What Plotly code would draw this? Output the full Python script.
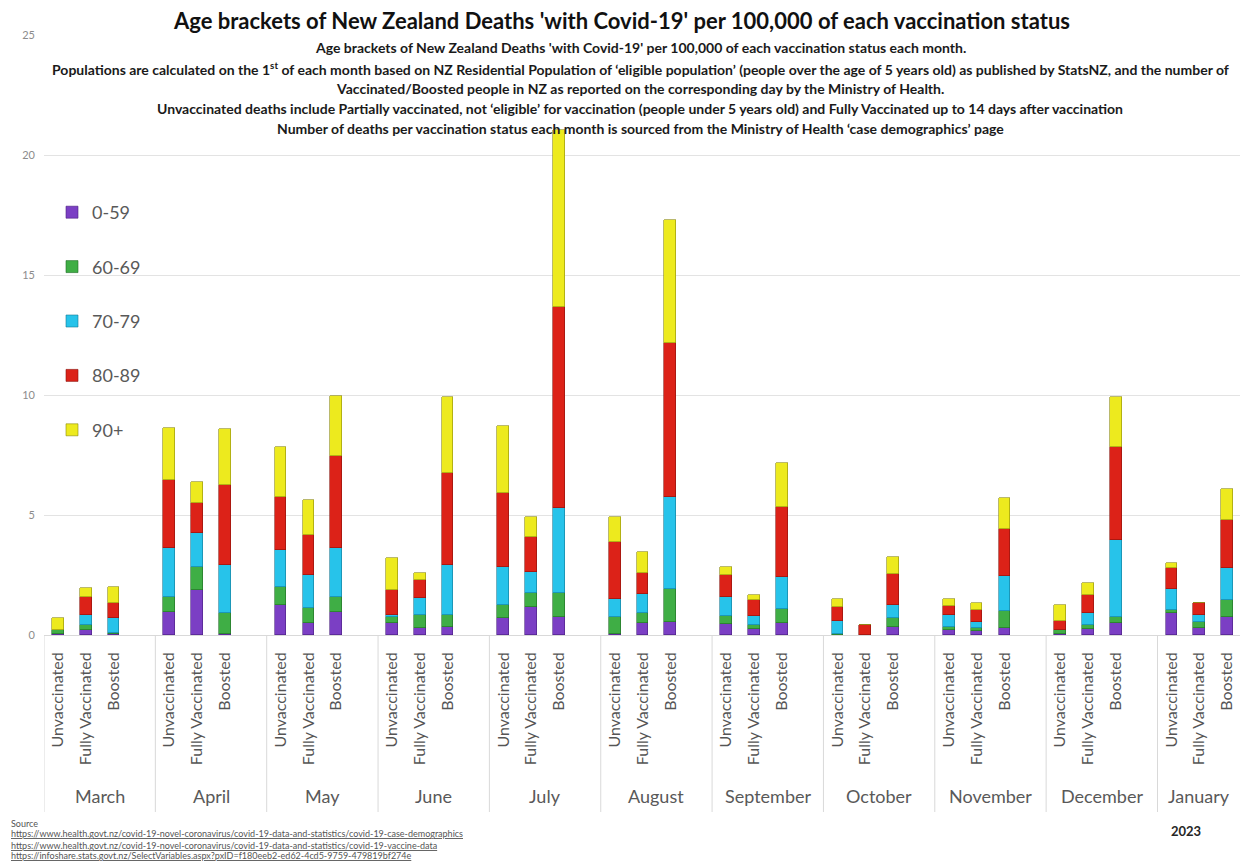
import plotly.graph_objects as go

months = ["March", "April", "May", "June", "July", "August", "September",
          "October", "November", "December", "January"]
statuses = ["Unvaccinated", "Fully Vaccinated", "Boosted"]

# values per 100,000, ordered month by month: Unvaccinated, Fully Vaccinated, Boosted
age_0_59 = [0.05, 0.21, 0.03,  0.97, 1.88, 0.03,  1.25, 0.49, 0.97,  0.49, 0.28, 0.35,
            0.70, 1.18, 0.75,  0.05, 0.49, 0.55,  0.45, 0.25, 0.50,  0.02, 0.00, 0.35,
            0.20, 0.15, 0.30,  0.05, 0.25, 0.50,  0.90, 0.28, 0.74]
age_60_69 = [0.15, 0.21, 0.05,  0.63, 0.97, 0.87,  0.76, 0.63, 0.63,  0.25, 0.55, 0.49,
             0.55, 0.56, 1.00,  0.72, 0.42, 1.35,  0.35, 0.15, 0.60,  0.03, 0.00, 0.35,
             0.15, 0.13, 0.70,  0.15, 0.17, 0.25,  0.15, 0.28, 0.72]
age_70_79 = [0.00, 0.42, 0.62,  2.02, 1.39, 2.01,  1.53, 1.39, 2.02,  0.10, 0.70, 2.08,
             1.60, 0.90, 3.55,  0.71, 0.78, 3.87,  0.80, 0.40, 1.30,  0.55, 0.00, 0.55,
             0.50, 0.28, 1.45,  0.02, 0.50, 3.20,  0.85, 0.27, 1.32]
age_80_89 = [0.00, 0.76, 0.65,  2.85, 1.25, 3.33,  2.22, 1.67, 3.82,  1.04, 0.76, 3.82,
             3.06, 1.46, 8.38,  2.39, 0.91, 6.41,  0.90, 0.65, 2.95,  0.55, 0.42, 1.30,
             0.35, 0.48, 1.95,  0.35, 0.73, 3.90,  0.90, 0.52, 2.00]
age_90_plus = [0.50, 0.35, 0.67,  2.15, 0.90, 2.36,  2.08, 1.46, 2.50,  1.32, 0.28, 3.19,
               2.78, 0.83, 7.38,  1.06, 0.87, 5.10,  0.35, 0.22, 1.80,  0.35, 0.00, 0.70,
               0.28, 0.28, 1.30,  0.70, 0.50, 2.05,  0.20, 0.00, 1.32]

series_names = ["0-59", "60-69", "70-79", "80-89", "90+"]
series_values = [age_0_59, age_60_69, age_70_79, age_80_89, age_90_plus]
series_colors = ["#7B3FC4", "#3FAE45", "#27C3EA", "#DC2218", "#EDEA1E"]
edge_colors = ["#4A1F80", "#1F6B25", "#147A96", "#8A120C", "#8C8A0C"]

subtitle_lines = [
    "Age brackets of New Zealand Deaths 'with Covid-19' per 100,000 of each vaccination status each month.",
    "Populations are calculated on the 1<sup>st</sup> of each month based on NZ Residential Population of ‘eligible population’ (people over the age of 5 years old) as published by StatsNZ, and the number of",
    "Vaccinated/Boosted people in NZ as reported on the corresponding day by the Ministry of Health.",
    "Unvaccinated deaths include Partially vaccinated, not ‘eligible’ for vaccination (people under 5 years old) and Fully Vaccinated up to 14 days after vaccination",
    "Number of deaths per vaccination status each month is sourced from the Ministry of Health ‘case demographics’ page",
]
source_lines = [
    "https://www.health.govt.nz/covid-19-novel-coronavirus/covid-19-data-and-statistics/covid-19-case-demographics",
    "https://www.health.govt.nz/covid-19-novel-coronavirus/covid-19-data-and-statistics/covid-19-vaccine-data",
    "https://infoshare.stats.govt.nz/SelectVariables.aspx?pxID=f180eeb2-ed62-4cd5-9759-479819bf274e",
]

# the page shows the figure 8px in from the top-left corner
OFF = 8
W, H = 1248 - OFF, 864 - OFF
ML, MR = 44 - OFF, 7
MT = 35 - OFF
MB = H - (635 - OFF)
PH = H - MT - MB
PW = W - ML - MR

def py(yref):
    """screen y (px) -> paper y"""
    return ((635 - OFF) - (yref - OFF)) / PH

def px(xref):
    """screen x (px) -> paper x"""
    return ((xref - OFF) - ML) / PW

# slot positions: three bars per month, one empty slot between months
slots_per_month = len(statuses) + 1
xpos = [m * slots_per_month + s for m in range(len(months)) for s in range(len(statuses))]
ticktext = [s for _ in months for s in statuses]

fig = go.Figure()
for name, vals, col, ecol in zip(series_names, series_values, series_colors, edge_colors):
    fig.add_trace(go.Bar(
        x=xpos, y=vals, name=name, width=0.42,
        marker=dict(color=col, line=dict(color=ecol, width=0.6)),
        legendgroup=name,
    ))

font_main = "Lato, Open Sans, sans-serif"
x_max = xpos[-1] + 0.5
dividers = [m * slots_per_month - 0.5 for m in range(len(months))] + [x_max]

shapes = []
for d in dividers:
    shapes.append(dict(type="line", xref="x", yref="paper", x0=d, x1=d,
                       y0=0, y1=py(812), line=dict(color="#D9D9D9", width=1)))

annotations = []
for i, mname in enumerate(months):
    cx = (dividers[i] + dividers[i + 1]) / 2
    annotations.append(dict(text=mname, xref="x", yref="paper", x=cx, y=py(796),
                            showarrow=False, yanchor="middle",
                            font=dict(family=font_main, size=18, color="#595959")))

sub_y = [48, 68, 88, 108, 128]
for line, yy in zip(subtitle_lines, sub_y):
    annotations.append(dict(text="<b>" + line + "</b>", xref="paper", yref="paper",
                            x=px(640), y=py(yy), showarrow=False, yanchor="middle",
                            font=dict(family=font_main, size=14, color="#1A1A1A")))

annotations.append(dict(text="Source", xref="paper", yref="paper", x=px(9), y=py(823),
                        xanchor="left", yanchor="middle", showarrow=False,
                        font=dict(family=font_main, size=9, color="#555555")))
for line, yy in zip(source_lines, [834, 845, 855]):
    annotations.append(dict(text="<u>" + line + "</u>", xref="paper", yref="paper",
                            x=px(9), y=py(yy), xanchor="left", yanchor="middle",
                            showarrow=False,
                            font=dict(family=font_main, size=9, color="#555555")))
annotations.append(dict(text="<b>2023</b>", xref="paper", yref="paper", x=px(1203), y=py(831),
                        showarrow=False, yanchor="middle",
                        font=dict(family=font_main, size=13, color="#262626")))

fig.update_layout(
    width=W, height=H,
    margin=dict(l=ML, r=MR, t=MT, b=MB),
    paper_bgcolor="white", plot_bgcolor="white",
    barmode="stack",
    title=dict(text="<b>Age brackets of New Zealand Deaths 'with Covid-19' per 100,000 of each vaccination status</b>",
               x=((622 - OFF) / W), xanchor="center", y=1 - (21 - OFF) / H, yref="container",
               yanchor="middle",
               font=dict(family=font_main, size=22, color="#111111")),
    xaxis=dict(range=[-0.5, x_max], tickmode="array", tickvals=xpos, ticktext=ticktext,
               tickangle=-90, showgrid=False, zeroline=False, showline=True,
               linecolor="#D9D9D9", linewidth=1, ticks="", ticklabelstandoff=10,
               tickfont=dict(family=font_main, size=16, color="#555555")),
    yaxis=dict(range=[0, 25], dtick=5, showgrid=True, gridcolor="#E3E3E3", gridwidth=1,
               zeroline=False, showline=False, ticks="", ticklabelstandoff=8,
               tickfont=dict(family=font_main, size=11, color="#8C8C8C")),
    legend=dict(x=px(52), y=py(194), xanchor="left", yanchor="top",
                traceorder="grouped", tracegroupgap=28, bgcolor="rgba(0,0,0,0)",
                font=dict(family=font_main, size=18, color="#595959")),
    shapes=shapes,
    annotations=annotations,
    bargap=0,
)

fig.write_html("out.html")
